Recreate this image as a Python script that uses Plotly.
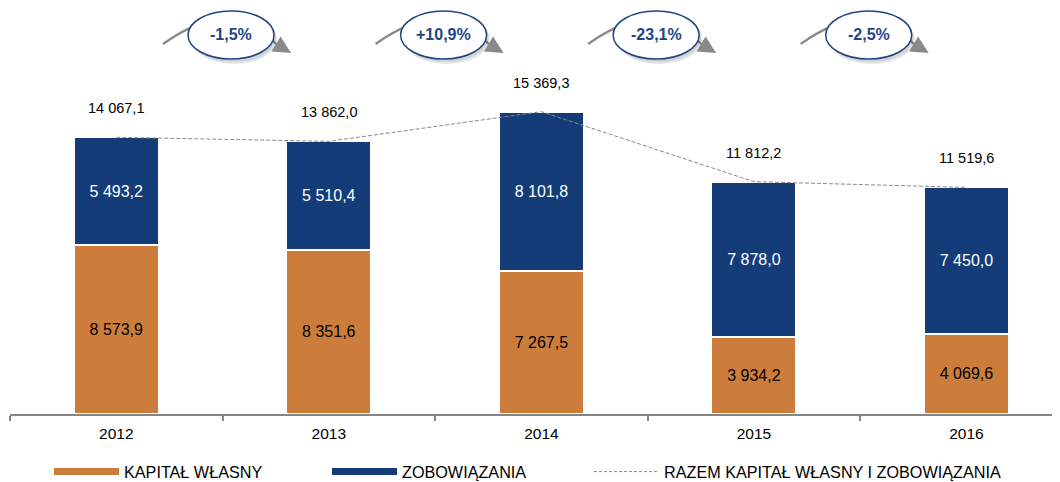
import plotly.graph_objects as go

# ---- data ----
years = ["2012", "2013", "2014", "2015", "2016"]
kapital = [8573.9, 8351.6, 7267.5, 3934.2, 4069.6]
zobowiazania = [5493.2, 5510.4, 8101.8, 7878.0, 7450.0]
razem = [14067.1, 13862.0, 15369.3, 11812.2, 11519.6]

ORANGE = "#CD7D3B"
BLUE = "#133C79"
GRAY = "#8A8A8A"
BUBBLE_BLUE = "#1E4584"
FONT = "Liberation Sans, Arial, sans-serif"


def pl(v):
    return f"{v:,.1f}".replace(",", " ").replace(".", ",")


fig = go.Figure()

fig.add_bar(x=years, y=kapital, name="KAPITAŁ WŁASNY", marker=dict(color=ORANGE, line=dict(color="white", width=2)),
            text=[pl(v) for v in kapital], textposition="inside", insidetextanchor="middle",
            textfont=dict(color="black", size=16, family=FONT), showlegend=False, width=0.4)
fig.add_bar(x=years, y=zobowiazania, name="ZOBOWIĄZANIA", marker=dict(color=BLUE, line=dict(color="white", width=2)),
            text=[pl(v) for v in zobowiazania], textposition="inside", insidetextanchor="middle",
            textfont=dict(color="white", size=16, family=FONT), showlegend=False, width=0.4)
fig.add_scatter(x=years, y=razem, mode="lines", line=dict(color=GRAY, width=1, dash="4px,2px"), showlegend=False)

# legend-only entries (one legend each, so each can sit where the reference has it)
fig.add_scatter(x=[None], y=[None], mode="lines", name="KAPITAŁ WŁASNY", line=dict(color=ORANGE, width=7),
                legend="legend")
fig.add_scatter(x=[None], y=[None], mode="lines", name="ZOBOWIĄZANIA", line=dict(color=BLUE, width=7),
                legend="legend2")
fig.add_scatter(x=[None], y=[None], mode="lines", name="RAZEM KAPITAŁ WŁASNY I ZOBOWIĄZANIA",
                line=dict(color=GRAY, width=1, dash="3px,2px"), legend="legend3")

# total labels
for i, t in enumerate(razem):
    fig.add_annotation(x=i, y=t, xref="x", yref="y", text=pl(t), showarrow=False, yshift=29,
                       xanchor="center", yanchor="middle",
                       font=dict(size=14.5, color="black", family=FONT))

# change bubbles
PX_X = 212.5  # pixels per category
PX_Y = 406.0  # plot height in pixels
cy = 1 - 27 / PX_Y
for i in range(len(razem) - 1):
    pct = (razem[i + 1] / razem[i] - 1) * 100
    label = f"{pct:+.1f}%".replace(".", ",")
    cx = i + 0.54
    dx = lambda p: cx + p / PX_X
    dy = lambda p: cy - p / PX_Y
    # arc
    fig.add_shape(type="path", xref="x", yref="paper",
                  path=f"M {dx(-68)},{dy(9)} Q {dx(0)},{dy(-40)} {dx(45)},{dy(9)}",
                  line=dict(color=GRAY, width=2.2))
    # shadow
    fig.add_shape(type="circle", xref="x", yref="paper", x0=dx(-40), x1=dx(46), y0=dy(-21), y1=dy(29),
                  fillcolor="rgba(0,0,0,0.10)", line=dict(width=0))
    fig.add_shape(type="circle", xref="x", yref="paper", x0=dx(-41), x1=dx(45), y0=dy(-22), y1=dy(27),
                  fillcolor="rgba(0,0,0,0.08)", line=dict(width=0))
    # ellipse
    fig.add_shape(type="circle", xref="x", yref="paper", x0=dx(-43), x1=dx(43), y0=dy(-24), y1=dy(24),
                  fillcolor="white", line=dict(color=BUBBLE_BLUE, width=1.5))
    # arrow head
    fig.add_annotation(x=dx(60), y=dy(18), xref="x", yref="paper", ax=-15, ay=-9, text="",
                       showarrow=True, arrowhead=2, arrowsize=1.6, arrowwidth=2.2, arrowcolor=GRAY)
    fig.add_annotation(x=cx, y=cy, xref="x", yref="paper", text=f"<b>{label}</b>", showarrow=False,
                       xanchor="center", yanchor="middle",
                       font=dict(size=16, color=BUBBLE_BLUE, family=FONT))

legend_common = dict(orientation="h", y=-0.143, xanchor="left", yanchor="middle",
                     font=dict(size=16.2, family=FONT), itemwidth=65, bgcolor="rgba(0,0,0,0)")

fig.update_layout(
    width=1052, height=474,
    margin=dict(l=2, r=0, t=0, b=68, autoexpand=False),
    barmode="stack",
    plot_bgcolor="white", paper_bgcolor="white",
    font=dict(family=FONT, color="black"),
    showlegend=True,
    legend=dict(x=(52 - 13) / 1050, **legend_common),
    legend2=dict(x=(330 - 13) / 1050, **legend_common),
    legend3=dict(x=(592 - 13) / 1050, **legend_common),
    xaxis=dict(range=[-0.5, 4.44], showline=True, linecolor="#858585", linewidth=2,
               ticks="outside", tickson="boundaries", ticklen=5, tickcolor="#858585", tickwidth=1.5,
               ticklabelstandoff=4,
               tickfont=dict(size=15.5, family=FONT, color="black"), showgrid=False, zeroline=False),
    yaxis=dict(range=[0, 20640], visible=False, showgrid=False, zeroline=False),
)

fig.write_html("out.html")
